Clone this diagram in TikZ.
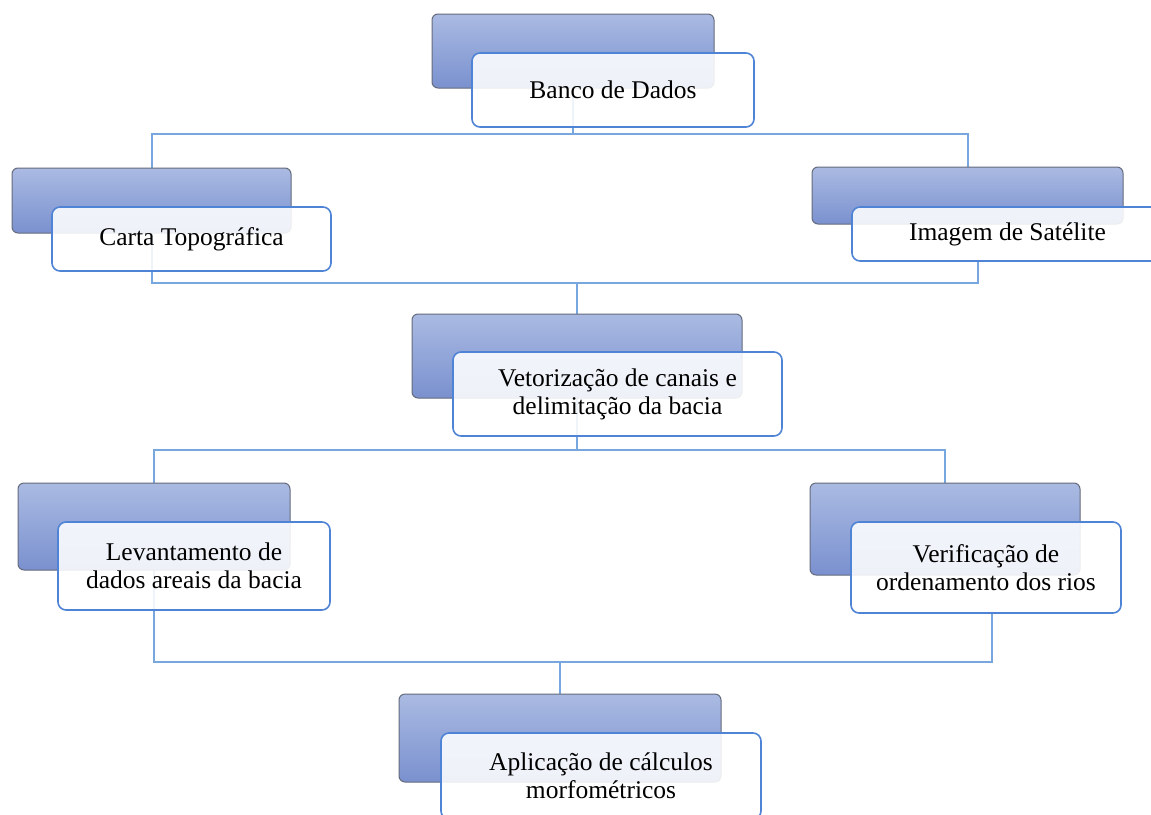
\documentclass[tikz,border=0pt]{standalone}
\usepackage{fontspec}
\setmainfont{Liberation Serif}
\definecolor{btop}{HTML}{AABAE2}
\definecolor{bbot}{HTML}{7A91CF}
\definecolor{bedge}{HTML}{656B7C}
\definecolor{wedge}{HTML}{4F83D5}
\definecolor{lcol}{HTML}{78A6DE}
\tikzset{
  bluebox/.style={rectangle, rounded corners=6pt, draw=bedge, line width=1pt,
    top color=btop, bottom color=bbot, inner sep=0pt, outer sep=0pt, anchor=north west},
  whitebox/.style={rectangle, rounded corners=8pt, draw=wedge, line width=1.6pt,
    fill=white, fill opacity=0.88, text opacity=1, inner sep=0pt, outer sep=0pt,
    anchor=north west, align=center, text=black,
    font=\fontsize{25.5}{28}\selectfont},
  anchorbox/.style={rectangle, inner sep=0pt, outer sep=0pt, anchor=north west},
  conn/.style={draw=lcol, line width=2pt}
}
\begin{document}
\begin{tikzpicture}[x=1pt,y=-1pt]
\useasboundingbox (0,0) rectangle (1151,814);
\fill[white] (0,0) rectangle (1151,814);
% junction coordinates
\coordinate (j1) at (573,134);
\coordinate (r2) at (978,283);
\coordinate (j3) at (577,450);
\coordinate (r4) at (992,662);
% box outlines used as anchors for the connectors
\path node[anchorbox, minimum width=282pt, minimum height=74pt] (b1) at (432,14) {}
      node[anchorbox, minimum width=279pt, minimum height=65pt] (b2l) at (12,168) {}
      node[anchorbox, minimum width=311pt, minimum height=57pt] (b2r) at (812,167) {}
      node[anchorbox, minimum width=311pt, minimum height=54pt] (w2r) at (852,207) {}
      node[anchorbox, minimum width=330pt, minimum height=84pt] (b3) at (412,314) {}
      node[anchorbox, minimum width=272pt, minimum height=87pt] (b4l) at (18,483) {}
      node[anchorbox, minimum width=270pt, minimum height=92pt] (b4r) at (810,483) {}
      node[anchorbox, minimum width=270pt, minimum height=91pt] (w4r) at (851,522) {}
      node[anchorbox, minimum width=322pt, minimum height=88pt] (b5) at (399,694) {};
\draw[conn] (b1.south) -- (b1.south |- j1);
\draw[conn] (b2l.north) |- (j1) -| (b2r.north);
\draw[conn] (b2l.south) |- (r2) -- (r2 |- w2r.south);
\draw[conn] (b3.north |- r2) -- (b3.north);
\draw[conn] (b3.south) -- (b3.south |- j3);
\draw[conn] (b4l.north) |- (j3) -| (b4r.north);
\draw[conn] (b4l.south) |- (r4) -- (r4 |- w4r.south);
\draw[conn] (b5.north |- r4) -- (b5.north);
% boxes
\node[bluebox, minimum width=282pt, minimum height=74pt] (bb1) at (432,14) {};
\node[whitebox, minimum width=282pt, minimum height=74pt] (w1) at (472,53) {Banco de Dados};
\node[bluebox, minimum width=279pt, minimum height=65pt] (bb2l) at (12,168) {};
\node[whitebox, minimum width=279pt, minimum height=64pt] (w2l) at (52,207) {Carta Topográfica};
\node[bluebox, minimum width=311pt, minimum height=57pt] (bb2r) at (812,167) {};
\node[whitebox, minimum width=311pt, minimum height=54pt] (ww2r) at (852,207) {Imagem de Satélite};
\node[bluebox, minimum width=330pt, minimum height=84pt] (bb3) at (412,314) {};
\node[whitebox, minimum width=329pt, minimum height=84pt] (w3) at (453,352) {Vetorização de canais e\\delimitação da bacia};
\node[bluebox, minimum width=272pt, minimum height=87pt] (bb4l) at (18,483) {};
\node[whitebox, minimum width=272pt, minimum height=88pt] (w4l) at (58,522) {Levantamento de\\dados areais da bacia};
\node[bluebox, minimum width=270pt, minimum height=92pt] (bb4r) at (810,483) {};
\node[whitebox, minimum width=270pt, minimum height=91pt] (ww4r) at (851,522) {Verificação de\\ordenamento dos rios};
\node[bluebox, minimum width=322pt, minimum height=88pt] (bb5) at (399,694) {};
\node[whitebox, minimum width=320pt, minimum height=86pt] (w5) at (441,733) {Aplicação de cálculos\\morfométricos};
\end{tikzpicture}
\end{document}
